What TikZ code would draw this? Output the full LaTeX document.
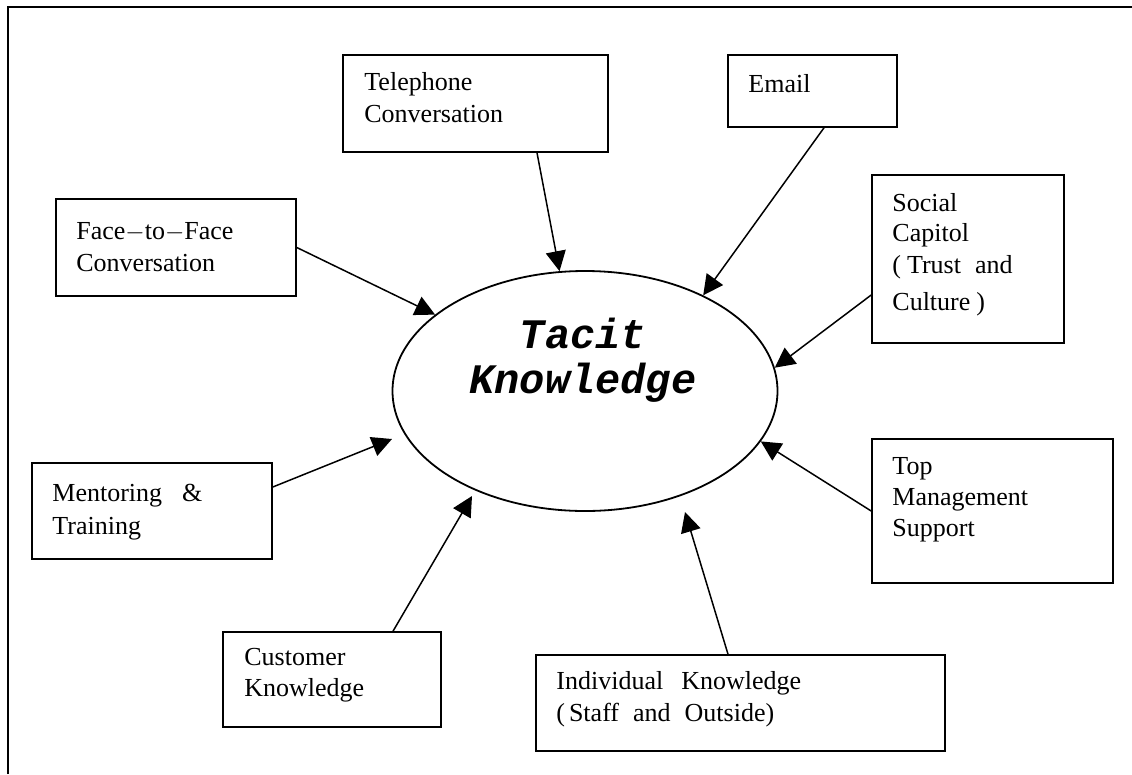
\documentclass[tikz,border=0pt]{standalone}
\usepackage{fontspec}
\setmainfont{Liberation Serif}
\newfontfamily\tacitfont{Liberation Mono}
\usetikzlibrary{arrows.meta}
\usetikzlibrary{shapes.geometric}

\tikzset{
  infobox/.style={draw, rectangle, line width=1.6pt, inner sep=0pt},
  boxtext/.style={anchor=north west, align=left, inner sep=0pt,
    font=\fontsize{26}{32}\selectfont},
  feeds/.style={line width=1.5pt, -{Triangle[length=20pt,width=20pt]}}
}

\begin{document}
\begin{tikzpicture}[x=1pt, y=-1pt]
      \useasboundingbox (0,0) rectangle (1132,774);

      \draw[line width=2pt] (8,774) -- (8,7) -- (1132,7);

      \node[ellipse, draw, line width=1.8pt, inner sep=0pt,
        minimum width=385, minimum height=240] (tacit) at (585,391) {};
      \node[align=center, inner sep=0pt,
        font=\tacitfont\bfseries\itshape\fontsize{42}{45}\selectfont] (tacitlabel) at (583,360) {Tacit\\Knowledge};

      \node[infobox, minimum width=265, minimum height=97] (phone) at (475.5,103.5) {};
      \node[infobox, minimum width=169, minimum height=72] (email) at (812.5,91) {};
      \node[infobox, minimum width=240, minimum height=97] (face) at (176,247.5) {};
      \node[infobox, minimum width=192, minimum height=168] (social) at (968,259) {};
      \node[infobox, minimum width=241, minimum height=144] (topmgmt) at (992.5,511) {};
      \node[infobox, minimum width=240, minimum height=96] (mentor) at (152,511) {};
      \node[infobox, minimum width=218, minimum height=95] (customer) at (332,679.5) {};
      \node[infobox, minimum width=409, minimum height=96] (individual) at (740.5,703) {};

      \node[boxtext] (phonetext) at ([shift={(22,18)}]phone.north west) {Telephone\\Conversation};
      \node[boxtext] (emailtext) at ([shift={(21,20)}]email.north west) {Email};
      \node[boxtext] (facetext) at ([shift={(21,24)}]face.north west) {Face$-$to$-$Face\\Conversation};
      \node[boxtext] (socialtext) at ([shift={(21,19)}]social.north west)
        {Social\\[-2pt]Capitol\\(\hspace{6pt}Trust\hspace{14pt}and\\[5pt]Culture\hspace{6pt})};
      \node[boxtext] (topmgmttext) at ([shift={(21,19)}]topmgmt.north west) {Top\\[-1pt]Management\\[-1pt]Support};
      \node[boxtext] (mentortext) at ([shift={(21,22)}]mentor.north west) {Mentoring\hspace{20pt}\&\\[1pt]Training};
      \node[boxtext] (customertext) at ([shift={(22,17)}]customer.north west) {Customer\\[-1pt]Knowledge};
      \node[boxtext] (individualtext) at ([shift={(21,17)}]individual.north west)
        {Individual\hspace{18pt}Knowledge\\(\hspace{4pt}Staff\hspace{14pt}and\hspace{14pt}Outside)};

      \coordinate (mentortip) at (392,439);
      \coordinate (customertip) at (472,496);
      \coordinate (individualtip) at (685,512);

      \draw[feeds] ([xshift=61.5pt]phone.south) -- (tacit.102);
      \draw[feeds] ([xshift=11.5pt]email.south) -- (tacit.39);
      \draw[feeds] (face.east) -- (tacit.153);
      \draw[feeds] ([yshift=-36pt]social.west) -- (tacit.7);
      \draw[feeds] (topmgmt.west) -- (tacit.-16);
      \draw[feeds] ([yshift=24pt]mentor.east) -- (mentortip);
      \draw[feeds] ([xshift=61pt]customer.north) -- (customertip);
      \draw[feeds] ([xshift=-12.5pt]individual.north) -- (individualtip);
\end{tikzpicture}
\end{document}
